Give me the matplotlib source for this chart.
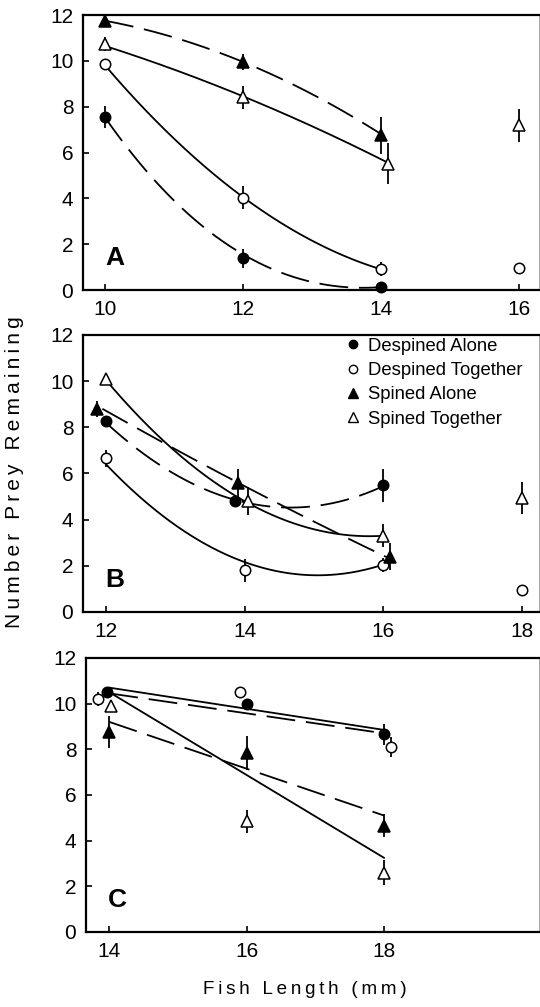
import numpy as np
import matplotlib.pyplot as plt
from matplotlib.lines import Line2D

plt.rcParams['font.family'] = ['Liberation Sans', 'DejaVu Sans']

# ---- panel A ----
a_ticks = [10, 12, 14, 16]
a_da_x, a_da_y, a_da_err = [10, 12, 14], [7.55, 1.38, 0.12], [0.5, 0.4, 0]
a_dt_x, a_dt_y, a_dt_err = [10, 12, 14, 16], [9.85, 4.02, 0.92, 0.98], [0, 0.5, 0.3, 0]
a_sa_x, a_sa_y, a_sa_err = [10, 12, 14], [11.75, 9.93, 6.75], [0, 0.35, 0.8]
a_st_x, a_st_y, a_st_err = [10, 12, 14.1, 16], [10.72, 8.42, 5.52, 7.18], [0.3, 0.5, 0.9, 0.7]
# fitted curves (knots)
a_da_cx, a_da_cy = [10, 11, 12, 13, 14], [7.5, 4.0, 1.4, 0.45, 0.1]
a_dt_cx, a_dt_cy = [10, 12, 14], [9.8, 4.05, 0.9]
a_sa_cx, a_sa_cy = [10, 12, 14], [11.75, 9.95, 6.8]
a_st_cx, a_st_cy = [10, 12, 14.1], [10.65, 8.45, 5.55]

# ---- panel B ----
b_ticks = [12, 14, 16, 18]
b_da_x, b_da_y, b_da_err = [12, 13.86, 16], [8.25, 4.8, 5.48], [0, 0, 0.7]
b_dt_x, b_dt_y, b_dt_err = [12, 14, 16, 18], [6.65, 1.8, 2.05, 0.97], [0.35, 0.5, 0.3, 0]
b_sa_x, b_sa_y, b_sa_err = [11.87, 13.9, 16.1], [8.8, 5.6, 2.4], [0.35, 0.6, 0.6]
b_st_x, b_st_y, b_st_err = [12, 14.05, 16, 18], [10.07, 4.8, 3.3, 4.95], [0, 0.6, 0.5, 0.7]
b_da_cx, b_da_cy = [12, 14, 16], [8.2, 4.75, 5.45]
b_dt_cx, b_dt_cy = [12, 14.9, 16], [6.4, 1.6, 2.05]
b_sa_cx, b_sa_cy = [11.95, 14, 16.1], [8.8, 5.45, 2.3]
b_st_cx, b_st_cy = [12, 14, 16], [10.05, 4.8, 3.3]

# ---- panel C ----
c_ticks = [14, 16, 18]
c_da_x, c_da_y, c_da_err = [13.97, 16.0, 18], [10.5, 10.0, 8.65], [0, 0, 0.45]
c_dt_x, c_dt_y, c_dt_err = [13.83, 15.9, 18.1], [10.2, 10.5, 8.1], [0.3, 0, 0.45]
c_sa_x, c_sa_y, c_sa_err = [14, 16, 18], [8.75, 7.85, 4.65], [0.7, 0.75, 0.5]
c_st_x, c_st_y, c_st_err = [14.03, 16, 18], [9.9, 4.85, 2.6], [0, 0.5, 0.55]
c_da_cx, c_da_cy = [14, 18], [10.45, 8.7]
c_dt_cx, c_dt_cy = [14, 18], [10.7, 8.85]
c_sa_cx, c_sa_cy = [14, 18], [9.2, 5.1]
c_st_cx, c_st_cy = [14, 18], [10.5, 3.25]

labels = ['Despined Alone', 'Despined Together', 'Spined Alone', 'Spined Together']

DASH = (0, (16, 6))
styles = {
    'da': dict(marker='o', mfc='black', ls=DASH, ms=7.5),
    'dt': dict(marker='o', mfc='white', ls='-', ms=7.5),
    'sa': dict(marker='^', mfc='black', ls=DASH, ms=8.5),
    'st': dict(marker='^', mfc='white', ls='-', ms=8.5),
}


def draw_series(ax, key, x, y, err, cx, cy):
    st = styles[key]
    deg = min(len(cx) - 1, 3)
    coef = np.polyfit(cx, cy, deg)
    xx = np.linspace(cx[0], cx[-1], 200)
    ax.plot(xx, np.polyval(coef, xx), color='black', lw=1.3, ls=st['ls'], zorder=2)
    ax.errorbar(x, y, yerr=err, fmt='none', ecolor='black', elinewidth=1.3,
                capsize=0, zorder=2)
    ax.plot(x, y, ls='none', marker=st['marker'], mfc=st['mfc'], mec='black',
            mew=1.1, ms=st['ms'], zorder=3, clip_on=False)


fig = plt.figure(figsize=(5.4, 10.07), dpi=100)
axA = fig.add_axes([0.1537, 0.7120, 0.845, 0.2731])
axB = fig.add_axes([0.1537, 0.3923, 0.845, 0.2751])
axC = fig.add_axes([0.1593, 0.0745, 0.839, 0.2721])

panels = [
    (axA, 'A', a_ticks, (9.68, 16.29), [
        ('da', a_da_x, a_da_y, a_da_err, a_da_cx, a_da_cy),
        ('dt', a_dt_x, a_dt_y, a_dt_err, a_dt_cx, a_dt_cy),
        ('sa', a_sa_x, a_sa_y, a_sa_err, a_sa_cx, a_sa_cy),
        ('st', a_st_x, a_st_y, a_st_err, a_st_cx, a_st_cy)]),
    (axB, 'B', b_ticks, (11.67, 18.25), [
        ('da', b_da_x, b_da_y, b_da_err, b_da_cx, b_da_cy),
        ('dt', b_dt_x, b_dt_y, b_dt_err, b_dt_cx, b_dt_cy),
        ('sa', b_sa_x, b_sa_y, b_sa_err, b_sa_cx, b_sa_cy),
        ('st', b_st_x, b_st_y, b_st_err, b_st_cx, b_st_cy)]),
    (axC, 'C', c_ticks, (13.66, 20.26), [
        ('da', c_da_x, c_da_y, c_da_err, c_da_cx, c_da_cy),
        ('dt', c_dt_x, c_dt_y, c_dt_err, c_dt_cx, c_dt_cy),
        ('sa', c_sa_x, c_sa_y, c_sa_err, c_sa_cx, c_sa_cy),
        ('st', c_st_x, c_st_y, c_st_err, c_st_cx, c_st_cy)]),
]

for ax, letter, ticks, xlim, series in panels:
    for s in series:
        draw_series(ax, *s)
    ax.set_xlim(*xlim)
    ax.set_ylim(0, 12)
    ax.set_xticks(ticks)
    ax.set_yticks(range(0, 13, 2))
    ax.tick_params(direction='in', length=4, width=1.2, labelsize=15, pad=7)
    for side in ['left', 'bottom', 'top']:
        ax.spines[side].set_linewidth(1.6)
    ax.spines['right'].set_linewidth(0.6)
    ax.spines['right'].set_color('0.6')
    ax.text(0.07, 0.115, letter, transform=ax.transAxes, fontsize=19,
            fontweight='bold', ha='center', va='center')

handles = [Line2D([], [], ls='none', marker=styles[k]['marker'],
                  mfc=styles[k]['mfc'], mec='black', mew=1.0,
                  ms=styles[k]['ms'] - 1.5) for k in ['da', 'dt', 'sa', 'st']]
axB.legend(handles, labels, loc='upper left', bbox_to_anchor=(0.58, 0.99),
           frameon=False, fontsize=13.3, handlelength=0.6, handletextpad=0.5,
           labelspacing=0.4, borderpad=0, borderaxespad=0)

ts = '\u2009'
fig.text(15 / 540, 1 - 472 / 1007, ts.join('Number Prey Remaining'),
         rotation=90, ha='center', va='center', fontsize=15)
fig.text(305 / 540, 1 - 990 / 1007, ts.join('Fish Length (mm)'),
         ha='center', va='center', fontsize=13.6)

fig.savefig('out.png', dpi=100)
